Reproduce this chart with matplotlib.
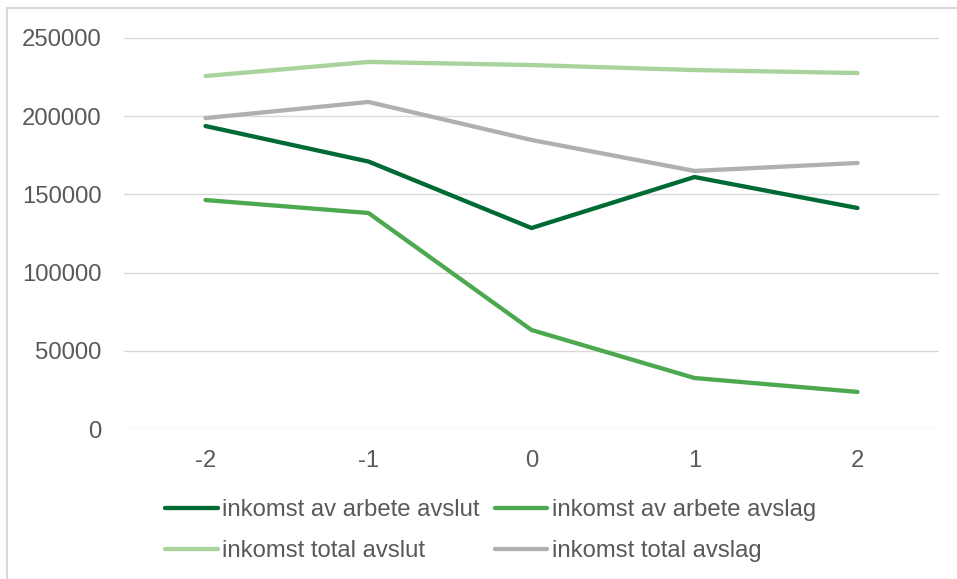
import numpy as np
import matplotlib
matplotlib.use("Agg")
import matplotlib.pyplot as plt
from matplotlib.patches import Rectangle

plt.rcParams['font.family'] = ['Liberation Sans', 'DejaVu Sans']

# Data ------------------------------------------------------------------------
ar = [-2, -1, 0, 1, 2]
arbete_avslut = [193700, 171000, 128500, 161100, 141300]
arbete_avslag = [146400, 138100, 63300, 32600, 23700]
total_avslut = [225700, 234700, 232700, 229500, 227600]
total_avslag = [198800, 209100, 184800, 165000, 170100]

serier = [
    ("inkomst av arbete avslut", arbete_avslut, "#006a35"),
    ("inkomst av arbete avslag", arbete_avslag, "#4ca94f"),
    ("inkomst total avslut", total_avslut, "#a9d39c"),
    ("inkomst total avslag", total_avslag, "#b0b0b0"),
]

textfarg = "#595959"
fs = 17.2

# Figur -----------------------------------------------------------------------
fig = plt.figure(figsize=(9.57, 5.79), dpi=100)
ax = fig.add_axes([124/957, 1-429/579, 815/957, 391/579])

pos = np.arange(len(ar))
for namn, y, farg in serier:
    ax.plot(pos, y, color=farg, lw=3.1, label=namn,
            solid_capstyle='round', solid_joinstyle='round')

ax.set_xlim(-0.5, len(ar)-0.5)
ax.set_ylim(0, 250000)
ax.set_yticks(np.arange(0, 250001, 50000))
ax.set_xticks(pos)
ax.set_xticklabels([str(a) for a in ar])

ax.grid(axis='y', color='#d9d9d9', lw=1.0)
ax.set_axisbelow(True)
for s in ax.spines.values():
    s.set_visible(False)
ax.tick_params(length=0, labelsize=fs, colors=textfarg)
ax.tick_params(axis='x', pad=15)
ax.tick_params(axis='y', pad=16)

# legenden fylls radvis: ordna om för ncol=2
h, l = ax.get_legend_handles_labels()
ordning = [0, 2, 1, 3]
leg = fig.legend([h[i] for i in ordning], [l[i] for i in ordning],
                 loc='upper left', bbox_to_anchor=(165/957, 1-499/579), ncol=2,
                 frameon=False, fontsize=fs, handlelength=2.2,
                 handletextpad=0.2, columnspacing=0.62, labelspacing=0.8,
                 borderaxespad=0, borderpad=0)
for t in leg.get_texts():
    t.set_color(textfarg)

# ram runt diagrammet
fig.patches.append(Rectangle((7/957, -0.1), 1.2, 1-8/579+0.1,
                             transform=fig.transFigure, fill=False,
                             edgecolor='#d9d9d9', lw=1.5))

fig.savefig("out.png", dpi=100)
